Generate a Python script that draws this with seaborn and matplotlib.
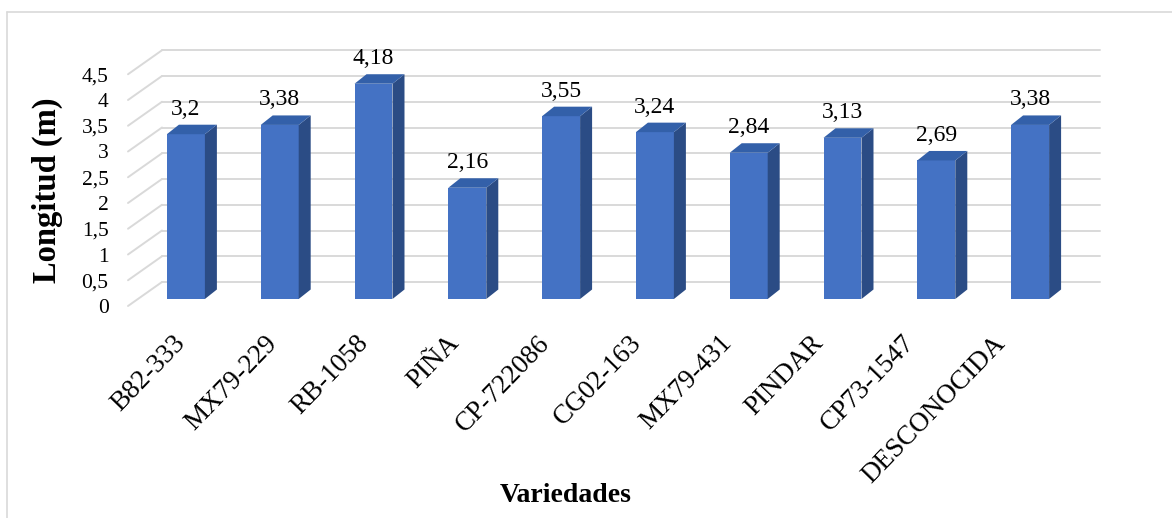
import numpy as np
import pandas as pd
import matplotlib
matplotlib.use('Agg')
import matplotlib.pyplot as plt
import seaborn as sns
from matplotlib.patches import Polygon
from matplotlib.lines import Line2D

# Datos
variedades = ["B82-333", "MX79-229", "RB-1058", "PIÑA", "CP-722086",
              "CG02-163", "MX79-431", "PINDAR", "CP73-1547", "DESCONOCIDA"]
longitud = [3.2, 3.38, 4.18, 2.16, 3.55, 3.24, 2.84, 3.13, 2.69, 3.38]
y_ticks = [0, 0.5, 1, 1.5, 2, 2.5, 3, 3.5, 4, 4.5]
y_tick_labels = ["0", "0,5", "1", "1,5", "2", "2,5", "3", "3,5", "4", "4,5"]

W, H, DPI = 1172, 518, 100
FRONT = "#4472C4"
SIDE = "#2B4C85"
TOP = "#3360A9"
GRID = "#D9D9D9"

sns.set_theme(style="white")
plt.rcParams['font.family'] = ['Liberation Serif', 'DejaVu Serif']
plt.rcParams['text.color'] = 'black'
plt.rcParams['xtick.color'] = 'black'
plt.rcParams['ytick.color'] = 'black'

fig = plt.figure(figsize=(W / DPI, H / DPI), dpi=DPI)
ax = fig.add_axes([128 / W, (H - 306) / H, 938 / W, 257.5 / H])

df = pd.DataFrame({"variedad": variedades, "longitud": longitud})
sns.barplot(data=df, x="variedad", y="longitud", color=FRONT, saturation=1,
            width=0.405, edgecolor="none", ax=ax, zorder=3)
ax.set_xlim(-0.5, 9.5)
ax.set_ylim(0, 5)

# pixel -> unidades de datos
p0 = ax.transData.transform((0, 0))
p1 = ax.transData.transform((1, 1))
px_x, px_y = p1[0] - p0[0], p1[1] - p0[1]

# pared del fondo (efecto 3D)
wall_dx, wall_dy = 34 / px_x, 24 / px_y
for v in y_ticks:
    ax.plot([-0.5 + wall_dx, 9.5 + wall_dx], [v + wall_dy, v + wall_dy],
            color=GRID, lw=1.4, clip_on=False, zorder=0)
    ax.plot([-0.5, -0.5 + wall_dx], [v, v + wall_dy],
            color=GRID, lw=1.4, clip_on=False, zorder=0)

# barras 3D
off_x, off_y = 11 / px_x, 7 / px_y
dep_x, dep_y = 12 / px_x, 9.5 / px_y
for p, v in zip(ax.patches, longitud):
    p.set_x(p.get_x() + off_x)
    p.set_y(off_y)
    p.set_clip_on(False)
    x0 = p.get_x()
    x1 = x0 + p.get_width()
    y0 = off_y
    y1 = off_y + v
    side = Polygon([(x1, y0), (x1 + dep_x, y0 + dep_y), (x1 + dep_x, y1 + dep_y), (x1, y1)],
                   closed=True, facecolor=SIDE, edgecolor="none", zorder=3, clip_on=False)
    top = Polygon([(x0, y1), (x1, y1), (x1 + dep_x, y1 + dep_y), (x0 + dep_x, y1 + dep_y)],
                  closed=True, facecolor=TOP, edgecolor="none", zorder=3, clip_on=False)
    ax.add_patch(side)
    ax.add_patch(top)
    ax.text((x0 + x1) / 2, y1 + dep_y + 5 / px_y, f"{v:g}".replace(".", ","),
            ha="center", va="bottom", fontsize=17, color="black", clip_on=False)

# ejes
sns.despine(ax=ax, left=True, bottom=True)
ax.set_yticks(y_ticks)
ax.set_yticklabels(y_tick_labels, fontsize=15.5)
ax.tick_params(axis="y", length=0, pad=14)
ax.set_xticks(range(len(variedades)))
ax.set_xticklabels(variedades, rotation=46, ha="right", va="center",
                   rotation_mode="anchor", fontsize=19.5)
ax.tick_params(axis="x", length=0, pad=24)
# las etiquetas en Excel 3D quedan algo más juntas que las columnas
for i, lab in enumerate(ax.get_xticklabels()):
    shift = matplotlib.transforms.ScaledTranslation((7 - 2.7 * i) / DPI, 0,
                                                    fig.dpi_scale_trans)
    lab.set_transform(lab.get_transform() + shift)
ax.set_xlabel("")
ax.set_ylabel("")
ax.grid(False)

fig.text(566 / W, 1 - 495 / H, "Variedades", ha="center", va="center",
         fontsize=20, fontweight="bold", color="black")
fig.text(47 / W, 1 - 190 / H, "Longitud (m)", ha="center", va="center",
         rotation=90, fontsize=23.5, fontweight="bold", color="black")

# borde del área del gráfico
fig.add_artist(Line2D([7 / W, 1.0], [1 - 12 / H, 1 - 12 / H], color=GRID, lw=1.2,
                      transform=fig.transFigure))
fig.add_artist(Line2D([7 / W, 7 / W], [0, 1 - 12 / H], color=GRID, lw=1.2,
                      transform=fig.transFigure))

fig.savefig("out.png", dpi=DPI, facecolor="white")
